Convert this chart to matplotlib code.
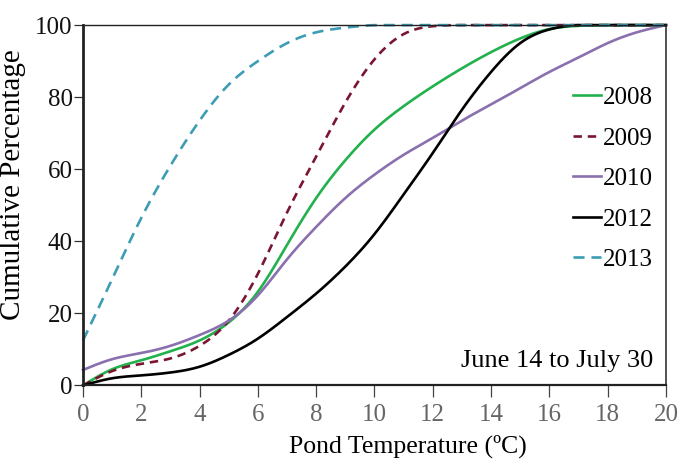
import numpy as np
import matplotlib
matplotlib.use('Agg')
import matplotlib.pyplot as plt

plt.rcParams['font.family'] = ['Liberation Serif', 'DejaVu Serif']

# Cumulative percentage at each whole degree
temps = list(range(0, 21))
pct_2008 = [0, 4.5, 7, 9.5, 12.5, 17.5, 26, 39, 52, 62.5, 71, 77.5, 83, 88, 92.5, 96.3, 98.9, 99.8, 100, 100, 100]
pct_2009 = [0, 4, 6, 7.5, 11, 18, 31, 48, 63.5, 78.5, 90.5, 97.5, 99.7, 100, 100, 100, 100, 100, 100, 100, 100]
pct_2010 = [4.3, 7.3, 9, 11, 14, 18, 25, 35, 44, 52, 58.5, 64, 68.7, 73.5, 78, 82.5, 87, 91, 95, 98, 100]
pct_2012 = [0, 2, 2.8, 3.6, 5.2, 8.5, 13, 19, 25.5, 33, 42, 53, 64.5, 76.5, 87, 95, 98.8, 100, 100, 100, 100]
pct_2013 = [12.5, 29.5, 46.5, 61, 73.5, 83.5, 90, 95, 98, 99.3, 100, 100, 100, 100, 100, 100, 100, 100, 100, 100, 100]
years = ['2008', '2009', '2010', '2012', '2013']


def smooth(x, y, n=500):
    # natural cubic spline through the read values, for a smooth drawn curve
    x = np.asarray(x, float)
    y = np.asarray(y, float)
    nn = len(x)
    h = np.diff(x)
    A = np.zeros((nn, nn))
    b = np.zeros(nn)
    A[0, 0] = A[-1, -1] = 1
    for i in range(1, nn - 1):
        A[i, i - 1] = h[i - 1]
        A[i, i] = 2 * (h[i - 1] + h[i])
        A[i, i + 1] = h[i]
        b[i] = 6 * ((y[i + 1] - y[i]) / h[i] - (y[i] - y[i - 1]) / h[i - 1])
    M = np.linalg.solve(A, b)
    xs = np.linspace(x[0], x[-1], n)
    k = np.clip(np.searchsorted(x, xs) - 1, 0, nn - 2)
    dx1 = x[k + 1] - xs
    dx0 = xs - x[k]
    hk = h[k]
    ys = (M[k] * dx1**3 + M[k + 1] * dx0**3) / (6 * hk) \
        + (y[k] / hk - M[k] * hk / 6) * dx1 + (y[k + 1] / hk - M[k + 1] * hk / 6) * dx0
    return xs, np.clip(ys, 0, 100)


fig = plt.figure(figsize=(6.83, 4.65), dpi=100)
ax = fig.add_axes([0.1215, 0.171, 0.8535, 0.775])

styles = [
    (pct_2008, '#22b14c', '-', None),
    (pct_2009, '#7a1632', '--', (3.2, 2.2)),
    (pct_2010, '#8a70ae', '-', None),
    (pct_2012, '#000000', '-', None),
    (pct_2013, '#3c9db5', '--', (4.2, 2.6)),
]
for (vals, col, ls, dash), yr in zip(styles, years):
    xs, ys = smooth(temps, vals)
    line, = ax.plot(xs, ys, color=col, linestyle=ls, linewidth=1.9, label=yr, clip_on=False)
    if dash is not None:
        line.set_dashes(dash)

ax.set_xlim(0, 20)
ax.set_ylim(0, 100)
ax.set_xticks(range(0, 21, 2))
ax.set_yticks(range(0, 101, 20))

ax.tick_params(axis='x', direction='out', length=8.5, width=0.9, color='#444444',
               labelsize=18, labelcolor='#666666', pad=5)
ax.tick_params(axis='y', direction='out', length=6.5, width=0.9, color='#333333',
               labelsize=18, labelcolor='#111111', pad=1)

ax.spines['left'].set_linewidth(2.0)
ax.spines['bottom'].set_linewidth(1.6)
ax.spines['top'].set_linewidth(1.0)
ax.spines['right'].set_linewidth(1.1)
for s in ax.spines.values():
    s.set_color('#222222')

ax.set_xlabel('Pond Temperature (ºC)', fontsize=18.5)
ax.set_ylabel('Cumulative Percentage', fontsize=21)
ax.xaxis.set_label_coords(0.558, -0.135)
ax.yaxis.set_label_coords(-0.098, 0.556)

ax.text(0.978, 0.052, 'June 14 to July 30', transform=ax.transAxes,
        ha='right', va='baseline', fontsize=19)

leg = ax.legend(loc='center right', bbox_to_anchor=(0.982, 0.573), frameon=False,
                fontsize=18, handlelength=1.1, handletextpad=0.08,
                labelspacing=0.72, borderpad=0.1, borderaxespad=0)

fig.savefig('out.png', dpi=100)
